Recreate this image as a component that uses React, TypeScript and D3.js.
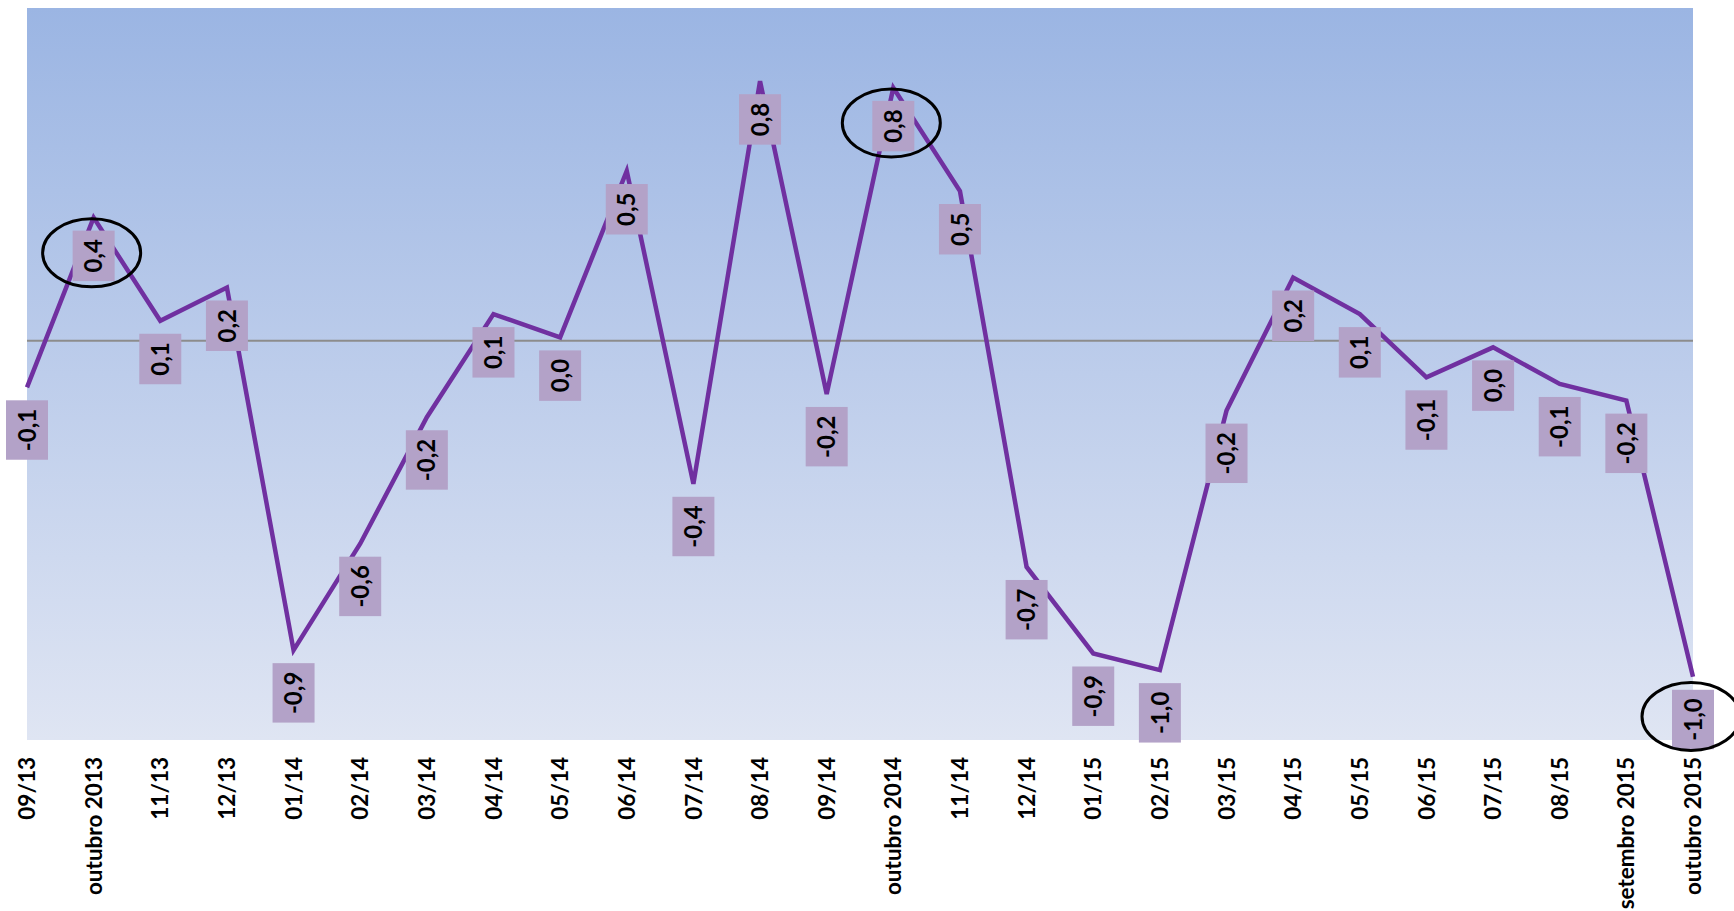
import React, { useEffect, useRef } from 'react';
import * as d3 from 'd3';

// months shown on the category axis
const categories = [
  '09/13', 'outubro 2013', '11/13', '12/13', '01/14', '02/14', '03/14', '04/14',
  '05/14', '06/14', '07/14', '08/14', '09/14', 'outubro 2014', '11/14', '12/14',
  '01/15', '02/15', '03/15', '04/15', '05/15', '06/15', '07/15', '08/15',
  'setembro 2015', 'outubro 2015',
];

// monthly variation (%)
const values = [
  -0.14, 0.37, 0.06, 0.16, -0.93, -0.61, -0.23, 0.08,
  0.01, 0.51, -0.43, 0.78, -0.16, 0.76, 0.45, -0.68,
  -0.94, -0.99, -0.21, 0.19, 0.08, -0.11, -0.02, -0.13,
  -0.18, -1.01,
];

const yDomain = [-1.2, 1.0];

// months circled on the chart
const circled = ['outubro 2013', 'outubro 2014', 'outubro 2015'];

const W = 1734;
const H = 911;

const ptBR = d3.formatLocale({
  decimal: ',',
  thousands: '.',
  grouping: [3],
  currency: ['R$', ''],
  minus: '-',
});
const fmt = ptBR.format('.1f');

const App: React.FC = () => {
  const svgRef = useRef<SVGSVGElement>(null);

  useEffect(() => {
    if (!svgRef.current) return;
    const svg = d3.select(svgRef.current);
    svg.selectAll('*').remove();

    const left = 27;
    const right = 1693;
    const top = 8;
    const bottom = 740;

    const x = d3.scalePoint<string>().domain(categories).range([left, right]);
    const y = d3.scaleLinear().domain(yDomain).range([bottom, top]);

    // background gradient
    const defs = svg.append('defs');
    const grad = defs.append('linearGradient')
      .attr('id', 'bg')
      .attr('x1', 0).attr('y1', 0).attr('x2', 0).attr('y2', 1);
    grad.append('stop').attr('offset', '0%').attr('stop-color', '#9bb5e3');
    grad.append('stop').attr('offset', '100%').attr('stop-color', '#dfe5f3');

    svg.append('rect')
      .attr('x', left).attr('y', top)
      .attr('width', right - left).attr('height', bottom - top)
      .attr('fill', 'url(#bg)');

    // zero line
    svg.append('line')
      .attr('x1', left).attr('x2', right)
      .attr('y1', y(0)).attr('y2', y(0))
      .attr('stroke', '#8c8c8c')
      .attr('stroke-width', 2);

    // series line
    const line = d3.line<number>()
      .x((_, i) => x(categories[i])!)
      .y(d => y(d));

    svg.append('path')
      .datum(values)
      .attr('d', line)
      .attr('fill', 'none')
      .attr('stroke', '#7030a0')
      .attr('stroke-width', 4.5)
      .attr('stroke-linejoin', 'miter');

    // data labels (below the point)
    const labelFont = 24;
    const gap = 13;
    const boxW = 42;
    const labels = svg.append('g');
    const boxes: { cx: number; cy: number; cat: string }[] = [];

    values.forEach((v, i) => {
      const cx = x(categories[i])!;
      const g = labels.append('g');
      const rect = g.append('rect').attr('fill', '#b3a2c8');
      const t = g.append('text')
        .attr('font-family', 'Lato, "Open Sans", sans-serif')
        .attr('font-weight', 'bold')
        .attr('font-size', labelFont)
        .attr('fill', '#000')
        .attr('text-anchor', 'middle')
        .attr('dy', '0.36em')
        .text(fmt(v));
      const len = (t.node() as SVGTextElement).getComputedTextLength();
      const boxH = len + 17;
      const boxTop = y(v) + gap;
      const cy = boxTop + boxH / 2;
      rect.attr('x', cx - boxW / 2).attr('y', boxTop)
        .attr('width', boxW).attr('height', boxH);
      t.attr('transform', `translate(${cx},${cy}) rotate(-90)`);
      boxes.push({ cx, cy, cat: categories[i] });
    });

    // highlight ellipses
    svg.append('g')
      .selectAll('ellipse')
      .data(boxes.filter(b => circled.includes(b.cat)))
      .join('ellipse')
      .attr('cx', d => d.cx - 2)
      .attr('cy', d => d.cy - 3)
      .attr('rx', 49)
      .attr('ry', 34)
      .attr('fill', 'none')
      .attr('stroke', '#000')
      .attr('stroke-width', 3);

    // category axis labels
    svg.append('g')
      .selectAll('text')
      .data(categories)
      .join('text')
      .attr('transform', d => `translate(${x(d)},${bottom + 17}) rotate(-90)`)
      .attr('text-anchor', 'end')
      .attr('dy', '0.36em')
      .attr('font-family', 'Lato, "Open Sans", sans-serif')
      .attr('font-weight', 'bold')
      .attr('font-size', 22.5)
      .attr('fill', '#000')
      .text(d => d);
  }, []);

  return (
    <svg
      ref={svgRef}
      width={W}
      height={H}
      style={{ position: 'absolute', left: 0, top: 0, background: '#fff' }}
    />
  );
};

export default App;
